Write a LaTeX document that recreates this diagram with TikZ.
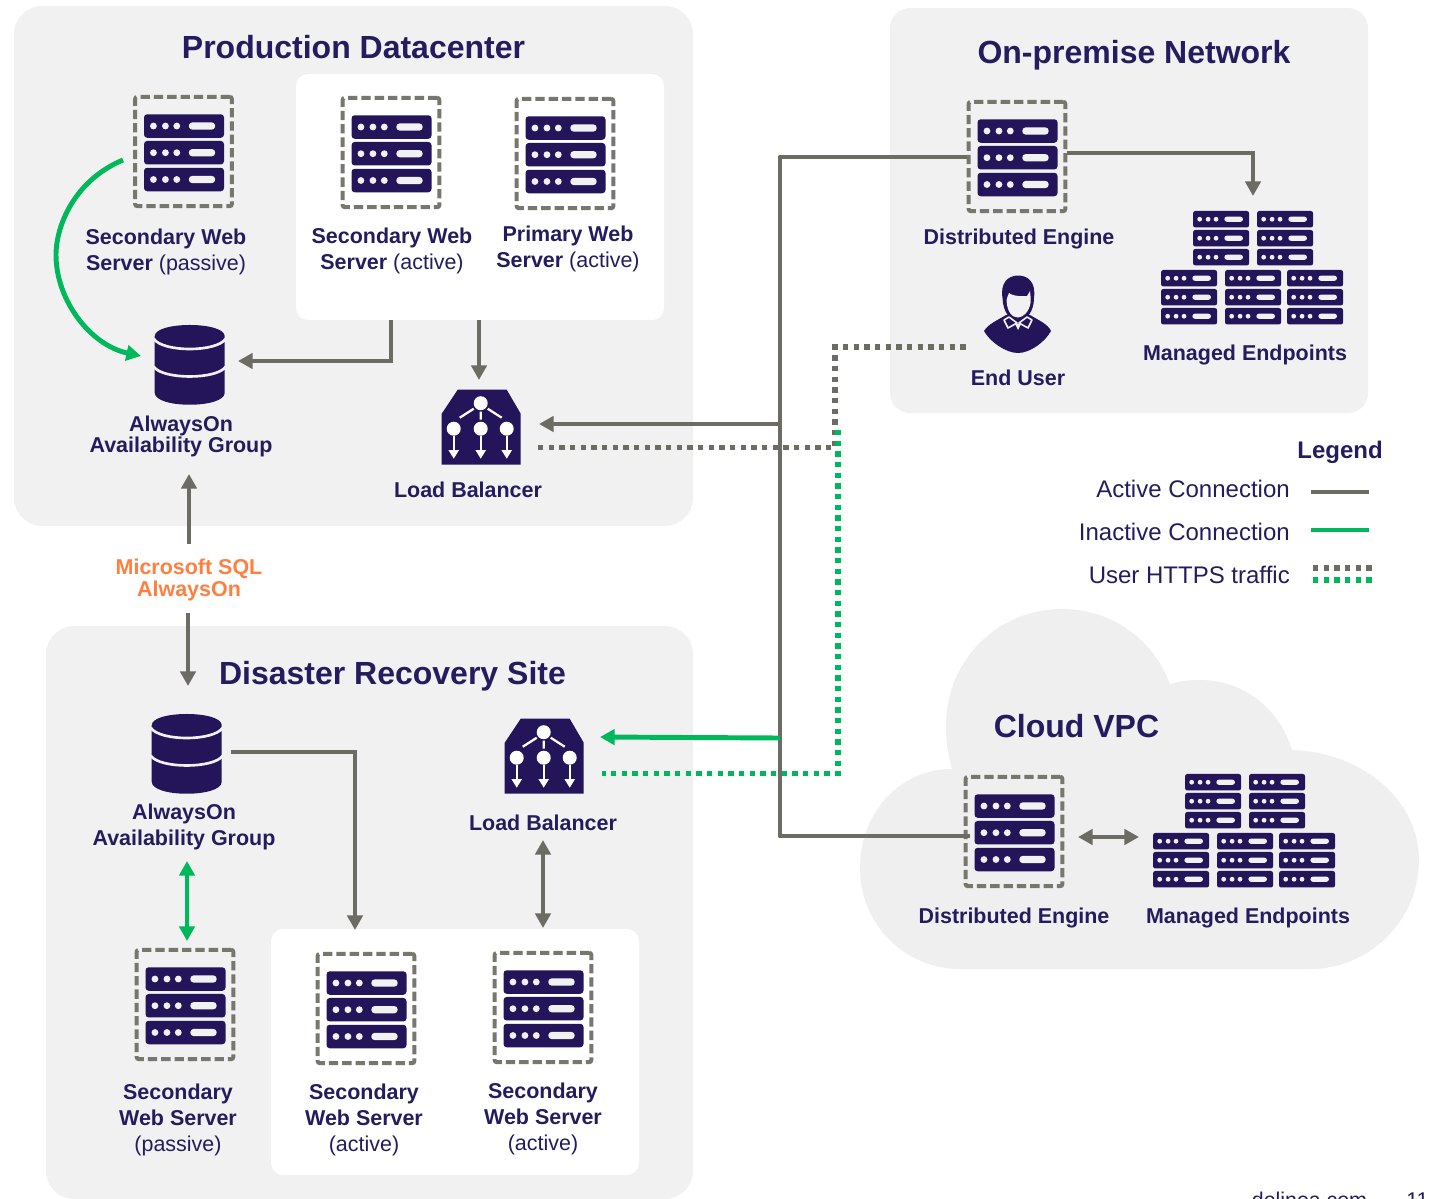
\documentclass[tikz,border=0pt]{standalone}
\usepackage{fontspec}
\setmainfont{Liberation Sans}
\usetikzlibrary{arrows.meta,calc}
\definecolor{navy}{HTML}{24155A}
\definecolor{txtnavy}{HTML}{241C5E}
\definecolor{linegray}{HTML}{6C6B64}
\definecolor{framegray}{HTML}{77766F}
\definecolor{lgreen}{HTML}{00B85C}
\definecolor{panel}{HTML}{F1F1F1}
\definecolor{cloudc}{HTML}{EFEFEF}
\definecolor{sqlorange}{HTML}{FF7F41}
\newcommand{\rackunit}[4]{% x y(center) w h
  \fill[navy,rounded corners=3.2*#4/23.5*0.75pt] (#1,#2-#4/2) rectangle (#1+#3,#2+#4/2);
  \fill[panel] (#1+#3*0.118,#2) circle[radius=#4*0.145]
               (#1+#3*0.268,#2) circle[radius=#4*0.145]
               (#1+#3*0.41,#2) circle[radius=#4*0.145];
  \fill[panel,rounded corners=#4*0.11pt] (#1+#3*0.56,#2-#4*0.155) rectangle (#1+#3*0.89,#2+#4*0.155);
}
\newcommand{\rackstack}[2]{% x ytop
  \rackunit{#1}{#2+8}{56}{16.5}
  \rackunit{#1}{#2+27}{56}{16.5}
  \rackunit{#1}{#2+46}{56}{16.5}
}
\tikzset{
  panelbg/.style={fill=panel,rounded corners=21pt},
  whitebg/.style={fill=white,rounded corners=9pt},
  srvframe/.style={draw=framegray,line width=2.9pt,dash pattern=on 7pt off 3pt,rounded corners=1.5pt,
     minimum width=72.5pt,minimum height=82pt,inner sep=0pt},
  lab/.style={font=\fontsize{16.1pt}{19.5pt}\selectfont\bfseries,text=txtnavy,align=center,inner sep=0pt},
  labt/.style={font=\fontsize{16.1pt}{15.9pt}\selectfont\bfseries,text=txtnavy,align=center,inner sep=0pt},
  title/.style={font=\fontsize{24pt}{28pt}\selectfont\bfseries,text=txtnavy,inner sep=0pt},
  legtxt/.style={font=\fontsize{18pt}{22pt}\selectfont,text=txtnavy,inner sep=0pt,anchor=east},
  conn/.style={draw=linegray,line width=3.7pt},
  gconn/.style={draw=lgreen,line width=3.7pt},
  tip/.style={-{Triangle[length=11pt,width=11.5pt]}},
  tips/.style={{Triangle[length=11pt,width=11.5pt]}-{Triangle[length=11pt,width=11.5pt]}},
  gdot/.style={draw=linegray,line width=4pt,dash pattern=on 4pt off 4pt},
  grdot/.style={draw=lgreen,line width=4pt,dash pattern=on 4pt off 4pt},
  srvpic/.pic={
    \rackunit{-39.5}{-25.5}{80}{23.5}
    \rackunit{-39.5}{1.2}{80}{23.5}
    \rackunit{-39.5}{28}{80}{23.5}
  },
  endpts/.pic={
    \rackstack{32}{0}
    \rackstack{96}{0}
    \rackstack{0}{59}
    \rackstack{64}{59}
    \rackstack{126}{59}
  },
  lbpic/.pic={
    \fill[navy] (16,0) -- (65,0) -- (79,24) -- (79,75) -- (0,75) -- (0,24) -- cycle;
    \fill[white] (39,13.5) circle[radius=7] (12,39) circle[radius=7] (39,39) circle[radius=7] (65,39) circle[radius=7];
    \draw[white,line width=1.7pt] (32,19) -- (18,28) (39,22) -- (39,30) (46,19) -- (60,28);
    \draw[white,line width=1.5pt,-{Triangle[length=6.5pt,width=7.5pt]}] (12,46) -- (12,69);
    \draw[white,line width=1.5pt,-{Triangle[length=6.5pt,width=7.5pt]}] (39,46) -- (39,69);
    \draw[white,line width=1.5pt,-{Triangle[length=6.5pt,width=7.5pt]}] (65,46) -- (65,69);
  },
  dbpic/.pic={
    \fill[navy] (0,11.5) -- (0,68) .. controls (0,84) and (70,84) .. (70,68) -- (70,11.5) .. controls (70,-3.5) and (0,-3.5) .. (0,11.5) -- cycle;
    \draw[panel,line width=2pt] (-1,14) .. controls (8,27.7) and (62,27.7) .. (71,14);
    \draw[panel,line width=2pt] (-1,42) .. controls (8,55) and (62,55) .. (71,42);
  }
}
\begin{document}
\begin{tikzpicture}[x=0.75pt,y=-0.75pt]
\useasboundingbox (0,0) rectangle (1432,1199);
% panels
\path[panelbg] (14,6) rectangle (693,526);
\path[whitebg] (296,74) rectangle (664,320);
\path[panelbg,rounded corners=15pt] (890,8) rectangle (1368,413);
\path[panelbg] (46,626) rectangle (693,1199);
\path[whitebg] (271,929) rectangle (639,1175);
\path[fill=cloudc] (960,969) .. controls (905,969) and (860,925) .. (860,868)
  .. controls (860,812) and (900,769) .. (952,769)
  .. controls (948,755) and (946,742) .. (946,725)
  .. controls (946,660) and (998,609) .. (1062,609)
  .. controls (1110,609) and (1152,637) .. (1170,684)
  .. controls (1180,681) and (1190,680) .. (1200,680)
  .. controls (1245,680) and (1280,710) .. (1292,750)
  .. controls (1362,752) and (1419,800) .. (1419,860)
  .. controls (1419,920) and (1370,969) .. (1310,969) -- cycle;
% frames
\node[srvframe] (s1) at (183.5,151.5) {};
\node[srvframe] (s2) at (391,152.5) {};
\node[srvframe] (s3) at (565,153.5) {};
\node[srvframe] (onde) at (1017,156.5) {};
\node[srvframe] (clde) at (1014,831.5) {};
\node[srvframe] (d1) at (185,1004.5) {};
\node[srvframe] (d2) at (366,1008.5) {};
\node[srvframe] (d3) at (543,1007.5) {};
\foreach \n in {s1,s2,s3,onde,clde,d1,d2,d3} { \pic at (\n.center) {srvpic}; }
% icon nodes
\node[minimum width=59.25pt,minimum height=56.25pt,inner sep=0pt] (lb1) at (481.5,427.5) {};
\node[minimum width=59.25pt,minimum height=56.25pt,inner sep=0pt] (lb2) at (544.5,756.5) {};
\node[minimum width=52.5pt,minimum height=60pt,inner sep=0pt] (db1) at (190,365) {};
\node[minimum width=52.5pt,minimum height=60pt,inner sep=0pt] (db2) at (187,754) {};
\node[minimum width=136pt,minimum height=84pt,inner sep=0pt] (me1) at (1252,267.5) {};
\node[minimum width=136pt,minimum height=84pt,inner sep=0pt] (me2) at (1244,830.5) {};
\pic at (lb1.north west) {lbpic};
\pic at (lb2.north west) {lbpic};
\pic at (db1.north west) {dbpic};
\pic at (db2.north west) {dbpic};
\pic at (me1.north west) {endpts};
\pic at (me2.north west) {endpts};
% user
\node[minimum width=50pt,minimum height=58pt,inner sep=0pt] (usr) at (1018,314) {};
\fill[navy] (984,331) .. controls (988,324) and (998,320) .. (1006,315) -- (1030,315)
  .. controls (1038,320) and (1048,324) .. (1051,331)
  .. controls (1045,342) and (1030,353) .. (1018,353)
  .. controls (1006,353) and (990,342) .. (984,331) -- cycle;
\fill[navy] (1002.5,298) .. controls (1000,283) and (1008,275.5) .. (1018,275.5)
  .. controls (1028,275.5) and (1036,282) .. (1034,298)
  .. controls (1034,312) and (1026,321) .. (1018,321)
  .. controls (1010,321) and (1003,312) .. (1002.5,298) -- cycle;
\fill[panel] (1006.5,300) .. controls (1007.5,297) and (1008,295) .. (1009,293)
  .. controls (1013,296.5) and (1024,296.5) .. (1027,296)
  .. controls (1028.5,294) and (1029.5,292) .. (1030,291)
  .. controls (1030.5,296) and (1031,300) .. (1030.5,303)
  .. controls (1029,312) and (1023,317.5) .. (1018,317.5)
  .. controls (1012,317.5) and (1007,312) .. (1006.5,300) -- cycle;
\draw[panel,fill=navy,line width=1.2pt,line join=round] (1004,320) -- (1009,317) -- (1017,323) -- (1008,328) -- cycle;
\draw[panel,fill=navy,line width=1.2pt,line join=round] (1032,320) -- (1027,317) -- (1019,323) -- (1028,328) -- cycle;
\fill[panel] (1015,324) -- (1021,324) -- (1018,330) -- cycle;
% connector junctions
\coordinate (t1) at (780,157);
\coordinate (t2) at (780,836);
\coordinate (cin) at (970,836);
\coordinate (ont) at (780,424);
\coordinate (lb1in) at (539,424);
\coordinate (lb2in) at (600,737);
\coordinate (grj) at (780,738);
\coordinate (dotA) at (538,447.5);
\coordinate (dotB) at (835,447.5);
\coordinate (dotC) at (835,347);
\coordinate (dotD) at (966,347);
\coordinate (grA) at (838,430);
\coordinate (grB) at (838,773.5);
\coordinate (grC) at (602,773.5);
\coordinate (mein) at (1253,196);
\coordinate (oout) at (1067,153);
\coordinate (ocor) at (1253,153);
\coordinate (p1) at (391,320);
\coordinate (p1b) at (391,361);
\coordinate (p2) at (479,320);
\coordinate (p2b) at (479,380);
\coordinate (dbin) at (238,361);
\coordinate (sqlup) at (189,544);
\coordinate (sqlupb) at (189,474);
\coordinate (sqld) at (188,613);
\coordinate (sqldb) at (188,686);
\coordinate (r1) at (231,752);
\coordinate (r2) at (355,752);
\coordinate (r3) at (355,930);
% connectors
\draw[conn,line join=round] (onde.west |- t1) -- (t1) -- (t2) -- (cin);
\draw[conn,tip] (ont) -- (lb1in);
\draw[gconn,tip] (grj) -- (lb2in);
\draw[gdot] (dotA) -- (dotB) -- (dotC) -- (dotD);
\draw[grdot] (grA) -- (grB) -- (grC);
\draw[conn,tip] (oout) -- (ocor) -- (mein);
\draw[conn,tip] (p1) -- (p1b) -- (dbin);
\draw[conn,tip] (p2) -- (p2b);
\draw[gconn,tip] (123,160) .. controls (75,180) and (56,225) .. (56,255) .. controls (56,300) and (90,345) .. (141,356);
\draw[conn,tip] (sqlup) -- (sqlupb);
\draw[conn,tip] (sqld) -- (sqldb);
\draw[conn,tip] (r1) -- (r2) -- (r3);
\draw[gconn,tips] (187,861) -- (187,941);
\draw[conn,tips] (543,840) -- (543,928);
\draw[conn,tips] (1078,837) -- (1139,837);
% titles
\node[title] (tp) at (353.5,47) {Production Datacenter};
\node[title] (to) at (1134,55) {On-premise Network};
\node[title] (td) at (392.5,676) {Disaster Recovery Site};
\node[title] (tc) at (1076.5,726) {Cloud VPC};
% labels
\node[lab] (l1) at (166,252) {Secondary Web\\Server {\mdseries(passive)}};
\node[lab] (l2) at (392,251) {Secondary Web\\Server {\mdseries(active)}};
\node[lab] (l3) at (568,249) {Primary Web\\Server {\mdseries(active)}};
\node[labt] (l4) at (181,436.5) {AlwaysOn\\Availability Group};
\node[labt] (l5) at (468,490) {Load Balancer};
\node[labt,text=sqlorange] (l6) at (189,580) {Microsoft SQL\\AlwaysOn};
\node[labt] (l7) at (1019,239) {Distributed Engine};
\node[labt] (l8) at (1245,355) {Managed Endpoints};
\node[labt] (l9) at (1018,378) {End User};
\node[lab] (l10) at (184,827) {AlwaysOn\\Availability Group};
\node[labt] (l11) at (543,823) {Load Balancer};
\node[labt] (l12) at (1014,918) {Distributed Engine};
\node[labt] (l13) at (1248,918) {Managed Endpoints};
\node[lab] (l14) at (178,1120) {Secondary\\Web Server\\{\mdseries(passive)}};
\node[lab] (l15) at (364,1120) {Secondary\\Web Server\\{\mdseries(active)}};
\node[lab] (l16) at (543,1119) {Secondary\\Web Server\\{\mdseries(active)}};
% legend
\node[legtxt,anchor=center,font=\fontsize{18pt}{22pt}\selectfont\bfseries] (lg) at (1340,452) {Legend};
\node[legtxt] (lg1) at (1290,489) {Active Connection};
\node[legtxt] (lg2) at (1290,532) {Inactive Connection};
\node[legtxt] (lg3) at (1290,575) {User HTTPS traffic};
\coordinate (la1) at (1311,492); \coordinate (la2) at (1369,492);
\coordinate (lc1) at (1311,530); \coordinate (lc2) at (1369,530);
\draw[conn] (la1) -- (la2);
\draw[gconn] (lc1) -- (lc2);
\coordinate (ld1) at (1313,568); \coordinate (ld2) at (1372,568);
\coordinate (le1) at (1313,580); \coordinate (le2) at (1372,580);
\draw[gdot] (ld1) -- (ld2);
\draw[grdot] (le1) -- (le2);
% footer
\node[font=\fontsize{16pt}{19pt}\selectfont,text=txtnavy,inner sep=0pt,anchor=base] (f1) at (1309.5,1207) {delinea.com};
\node[font=\fontsize{16pt}{19pt}\selectfont,text=txtnavy,inner sep=0pt,anchor=base] (f2) at (1417.5,1207) {11};
\end{tikzpicture}
\end{document}
